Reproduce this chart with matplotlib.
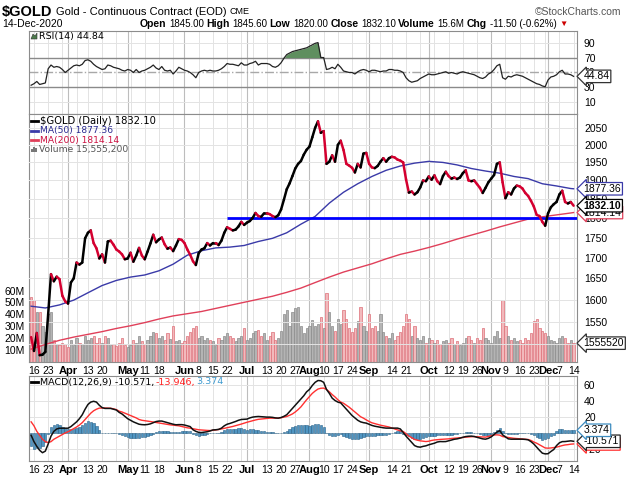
import numpy as np
import pandas as pd
import matplotlib
matplotlib.use('Agg')
import matplotlib.pyplot as plt
from matplotlib.collections import LineCollection
from matplotlib.lines import Line2D
from matplotlib.patches import Polygon, Rectangle
from matplotlib.ticker import NullLocator

plt.rcParams['font.family'] = ['Liberation Sans', 'DejaVu Sans']

# ---------------- data ----------------
holidays = ['2020-04-10', '2020-05-25', '2020-07-03', '2020-09-07', '2020-11-26']
dates = pd.bdate_range('2020-03-13', '2020-12-14')
dates = dates[~dates.isin(pd.to_datetime(holidays))]

close = [
    1516, 1486, 1525, 1477, 1478, 1484, 1567, 1660, 1643, 1654,
    1648, 1609, 1596, 1591, 1640, 1650, 1688, 1683, 1688, 1748,
    1762, 1768, 1736, 1723, 1698, 1708, 1688, 1740, 1742, 1732,
    1720, 1715, 1708, 1696, 1698, 1712, 1690, 1705, 1724, 1705,
    1696, 1715, 1735, 1757, 1738, 1745, 1750, 1733, 1722, 1725,
    1716, 1730, 1746, 1744, 1736, 1720, 1707, 1691, 1682, 1711,
    1720, 1723, 1736, 1730, 1736, 1736, 1731, 1742, 1762, 1776,
    1772, 1768, 1770, 1778, 1790, 1782, 1788, 1792, 1800, 1813,
    1805, 1803, 1812, 1812, 1810, 1805, 1802, 1807, 1822, 1848,
    1876, 1892, 1912, 1933, 1946, 1954, 1972, 1986, 1995, 2022,
    2050, 2069, 2035, 2040, 1946, 1952, 1970, 1952, 2000, 2012,
    1985, 1946, 1941, 1935, 1922, 1946, 1936, 1975, 1977, 1946,
    1936, 1934, 1940, 1952, 1962, 1952, 1962, 1966, 1964, 1958,
    1955, 1950, 1903, 1867, 1870, 1862, 1868, 1881, 1900, 1898,
    1911, 1902, 1914, 1898, 1890, 1912, 1924, 1912, 1905, 1908,
    1904, 1908, 1920, 1928, 1900, 1898, 1900, 1890, 1880, 1866,
    1880, 1895, 1905, 1915, 1946, 1950, 1895, 1852, 1868, 1862,
    1878, 1886, 1884, 1878, 1866, 1858, 1845, 1830, 1808, 1805,
    1790, 1780, 1812, 1828, 1836, 1842, 1862, 1872, 1842, 1838,
    1842, 1832.10,
]

# volume in millions
volume_m = [
    55, 52, 42, 42, 30, 25, 40, 42, 18, 15,
    14, 16, 15, 12, 18, 14, 20, 16, 15, 22,
    18, 20, 22, 16, 20, 16, 22, 20, 14, 15,
    13, 16, 20, 14, 12, 14, 18, 16, 22, 17,
    15, 18, 22, 25, 24, 20, 22, 18, 24, 19,
    30, 17, 18, 16, 17, 22, 25, 28, 30, 20,
    22, 18, 20, 18, 17, 14, 20, 18, 22, 24,
    22, 20, 17, 20, 22, 28, 18, 20, 24, 26,
    27, 22, 24, 18, 22, 25, 18, 20, 26, 40,
    44, 30, 42, 45, 46, 30, 24, 28, 30, 35,
    30, 32, 38, 28, 58, 42, 30, 26, 36, 32,
    44, 36, 28, 25, 28, 34, 46, 30, 26, 40,
    28, 30, 26, 40, 25, 22, 20, 24, 18, 22,
    25, 30, 40, 36, 22, 30, 20, 18, 22, 16,
    20, 18, 16, 18, 15, 17, 18, 16, 20, 15,
    17, 14, 16, 20, 22, 18, 16, 20, 18, 28,
    20, 18, 16, 22, 26, 20, 52, 30, 22, 18,
    20, 17, 18, 16, 20, 18, 24, 34, 36, 28,
    26, 24, 22, 18, 17, 16, 20, 22, 20, 16,
    18, 15.5552,
]

# moving averages, read every 5th session plus the last one
ma50 = [1585, 1581, 1588, 1599, 1616, 1633, 1645, 1653, 1658, 1668,
        1684, 1706, 1717, 1724, 1726, 1730, 1740, 1748, 1762, 1784,
        1804, 1839, 1868, 1891, 1911, 1928, 1940, 1948, 1953, 1950,
        1943, 1933, 1926, 1920, 1911, 1905, 1891, 1885, 1878, 1877.36]
ma200 = [1490, 1500, 1509, 1516, 1522, 1528, 1535, 1541, 1548, 1556,
         1563, 1568, 1573, 1580, 1587, 1594, 1601, 1608, 1617, 1627,
         1640, 1653, 1665, 1675, 1685, 1697, 1708, 1716, 1725, 1735,
         1746, 1756, 1766, 1777, 1787, 1797, 1803, 1808, 1813, 1814.14]

rsi = [
    33, 35, 38, 34, 35, 36, 55, 60, 57, 58,
    57, 54, 50, 53, 56, 59, 60, 59, 61, 66,
    67, 65, 61, 58, 56, 54, 55, 60, 59, 57,
    56, 55, 53, 52, 54, 53, 50, 54, 50, 52,
    53, 55, 57, 60, 56, 54, 58, 53, 52, 53,
    48, 52, 57, 55, 53, 52, 50, 47, 43, 50,
    52, 53, 52, 53, 52, 52, 53, 55, 58, 62,
    61, 61, 60, 59, 63, 60, 60, 62, 63, 65,
    60, 62, 62, 62, 61, 58, 57, 59, 63, 69,
    74, 76, 78, 79, 80, 81, 82, 83, 85, 87,
    89, 90, 70, 70, 54, 55, 57, 55, 61, 57,
    52, 51, 50, 50, 48, 51, 53, 54, 53, 51,
    53, 53, 52, 51, 52, 52, 54, 54, 53, 53,
    52, 50, 43, 39, 37, 38, 39, 42, 44, 46,
    48, 47, 47, 48, 49, 50, 51, 49, 50, 49,
    48, 50, 51, 50, 49, 48, 47, 45, 43, 42,
    44, 48, 50, 54, 59, 61, 43, 41, 45, 44,
    46, 47, 46, 45, 43, 41, 39, 37, 35, 34,
    32, 31, 40, 44, 45, 47, 51, 53, 48, 48,
    47, 44.84,
]

macd = [
    -3, -11, -17, -22, -25, -23, -14, -4, 2, 5,
    6, 6, 6, 6, 8, 11, 14, 18, 23, 30,
    36, 39, 40, 39, 35, 32, 31, 31, 31, 30,
    29, 26, 24, 21, 18, 16, 14, 12.5, 11, 10.5,
    10.3, 10.7, 11.5, 13, 14.4, 15, 15, 14, 13, 12,
    11, 10.3, 10.5, 10.5, 10, 9, 8, 4, 2, 0.7,
    0.5, 1, 1.5, 2.5, 3.8, 4, 4.5, 6, 9, 11,
    12, 13.2, 14.5, 16, 17, 17.2, 17.5, 19, 20, 20.5,
    20.8, 20.5, 20.2, 20, 20, 19.7, 19, 18.7, 19.5, 21,
    23, 27, 31, 35, 39, 43, 47, 52, 55, 60,
    64, 66.3, 66, 64, 55, 50, 44, 41, 39, 38,
    34, 30, 26, 22, 19, 16, 14, 13, 12.4, 11,
    9.5, 8.5, 7.8, 7, 6.5, 6.1, 6.1, 6.1, 6.1, 6.1,
    5, 0.5, -4, -8, -12, -16, -17.5, -18, -17, -16.3,
    -15, -14, -13, -11.5, -10.9, -11, -10.9, -10, -9, -8,
    -7.5, -6.6, -5.5, -4.6, -4.2, -4, -4.5, -5.5, -6.6, -7.5,
    -7.9, -6.8, -5, -2, 1, 3, -2.4, -5, -7.5, -7.9,
    -7.9, -7.9, -7.9, -7.9, -8.2, -8.7, -11, -14, -18, -22,
    -25.6, -26.5, -26.3, -23.5, -21, -16, -12.5, -11, -10.9, -10.5,
    -10, -10.571,
]

signal = [
    14, 9, 2, -3, -8, -11, -12.2, -11, -8, -6,
    -4, -2, 0, 1.5, 3.5, 5.5, 7.5, 10, 13, 17,
    21, 25, 28, 30, 31.4, 31.5, 31.5, 31.4, 31.2, 30.5,
    29.5, 27.5, 26.5, 25, 23.5, 22, 20.5, 19, 17, 16,
    15.5, 15, 14.4, 13.8, 13.2, 12.6, 12, 11.3, 10.7, 10.2,
    9.8, 9.4, 9, 8.2, 7.3, 6.5, 6, 5.3, 4.6, 4,
    3.7, 3.4, 3.2, 3, 3.3, 3.8, 4.3, 5, 5.8, 6.6,
    7.3, 8.2, 9.2, 10.1, 11.2, 12.4, 13.5, 14.5, 15.5, 16.4,
    17.2, 17.6, 18, 18.4, 18.7, 18.7, 18.7, 18.7, 19.2, 20,
    20.8, 22.3, 24, 26.5, 29.5, 33, 37.5, 42, 46, 50,
    53, 55.5, 56.5, 56.7, 55, 52, 48.5, 45.5, 42, 39,
    37.5, 35, 32.5, 29.5, 26.5, 23.5, 20.5, 18.7, 16.5, 14.5,
    12.8, 11.8, 10.7, 9.8, 9, 8.2, 7.5, 6.3, 5, 3.8,
    2.6, 1.8, -1, -4, -6, -8.2, -9.2, -10, -10.5, -10.9,
    -10.5, -9.5, -8.9, -8.5, -8.2, -8, -7.9, -7.5, -7, -6.7,
    -6.5, -6.2, -5.8, -5.3, -5, -4.8, -4.6, -4.8, -5, -5.2,
    -5.3, -4.5, -3.5, -2.6, -2.4, -2.8, -4.6, -5.2, -5.8, -6.3,
    -6.8, -7.1, -7.4, -7.7, -7.9, -8.3, -9.5, -11.5, -13, -15,
    -17, -19, -19.3, -19, -18.5, -18, -17, -16, -15.2, -14.8,
    -14.2, -13.946,
]

# last values as printed by the chart
last_close, last_ma50, last_ma200 = '1832.10', '1877.36', '1814.14'
last_volume, last_rsi = '1555520', '44.84'
last_macd, last_signal, last_hist = '-10.571', '-13.946', '3.374'

support_level = 1800
support_start = '2020-06-22'

tick_dates = ['2020-03-16', '2020-03-23', '2020-04-01', '2020-04-13', '2020-04-20',
              '2020-05-01', '2020-05-11', '2020-05-18', '2020-06-01', '2020-06-08',
              '2020-06-15', '2020-06-22', '2020-07-01', '2020-07-13', '2020-07-20',
              '2020-07-27', '2020-08-03', '2020-08-10', '2020-08-17', '2020-08-24',
              '2020-09-01', '2020-09-14', '2020-09-21', '2020-10-01', '2020-10-12',
              '2020-10-19', '2020-10-26', '2020-11-02', '2020-11-09', '2020-11-16',
              '2020-11-23', '2020-12-01', '2020-12-07', '2020-12-14']
tick_labels = ['16', '23', 'Apr', '13', '20', 'May', '11', '18', 'Jun', '8',
               '15', '22', 'Jul', '13', '20', '27', 'Aug', '10', '17', '24',
               'Sep', '14', '21', 'Oct', '12', '19', '26', 'Nov', '9', '16',
               '23', 'Dec', '7', '14']

price_levels = [1500, 1550, 1600, 1650, 1700, 1750, 1800, 1850, 1900, 1950, 2000, 2050]
vol_levels = [10, 20, 30, 40, 50, 60]
rsi_levels = [10, 30, 50, 70, 90]
macd_levels = [-20, 0, 20, 40, 60]

n = len(dates)
assert len(close) == n and len(volume_m) == n and len(rsi) == n
assert len(macd) == n and len(signal) == n
close = np.array(close, dtype=float)
volume = np.array(volume_m) * 1e6
rsi = np.array(rsi, dtype=float)
macd = np.array(macd, dtype=float)
signal = np.array(signal, dtype=float)
hist = macd - signal
x = np.arange(n)
ma_pos = np.r_[np.arange(0, n - 1, 5), n - 1]

date_pos = {d.strftime('%Y-%m-%d'): i for i, d in enumerate(dates)}
tick_pos = [date_pos[d] for d in tick_dates]
is_month = [not lbl.isdigit() for lbl in tick_labels]

week = dates.isocalendar().week.values
week_starts = [i for i in range(1, n) if week[i] != week[i - 1]]
month_starts = [i for i in range(1, n) if dates[i].month != dates[i - 1].month]

# ---------------- figure ----------------
W, H = 626, 479
fig = plt.figure(figsize=(W / 100, H / 100), dpi=100)
fig.patch.set_facecolor('white')


def rect(top, bottom, left=29, right=577):
    return [left / W, 1 - bottom / H, (right - left) / W, (bottom - top) / H]


def fx(px):
    return px / W


def fy(py):
    return 1 - py / H


ax_rsi = fig.add_axes(rect(31, 114))
ax_vol = fig.add_axes(rect(114, 361.5), sharex=ax_rsi)
ax_price = fig.add_axes(rect(114, 361.5), sharex=ax_rsi)
ax_macd = fig.add_axes(rect(376, 461), sharex=ax_rsi)
ax_vol.set_zorder(1)
ax_price.set_zorder(2)
ax_price.patch.set_visible(False)

grid_light = '#e3e3e3'
grid_month = '#bdbdbd'
for ax in (ax_rsi, ax_vol, ax_macd):
    for i in week_starts:
        ax.axvline(i, color=grid_light, lw=0.7, zorder=0)
    for i in month_starts:
        ax.axvline(i, color=grid_month, lw=0.8, zorder=0)

for ax in (ax_rsi, ax_vol, ax_price, ax_macd):
    for s in ax.spines.values():
        s.set_color('#8c8c8c')
        s.set_linewidth(0.8)
    ax.tick_params(axis='both', length=0, labelsize=7.5)
    ax.tick_params(axis='y', labelleft=False, labelright=True, pad=5)
ax_price.spines[:].set_visible(False)

ax_rsi.set_xlim(-0.75, 192.2)
ax_rsi.set_xticks(tick_pos)
ax_rsi.set_xticklabels(tick_labels)
ax_rsi.tick_params(labelbottom=False)
ax_price.tick_params(labelbottom=False)
for ax in (ax_vol, ax_macd):
    ax.tick_params(axis='x', labelbottom=True, pad=3)
    for lbl, m in zip(ax.get_xticklabels(), is_month):
        lbl.set_fontweight('bold' if m else 'normal')
        lbl.set_fontsize(8 if m else 7.5)

# ---------------- RSI panel ----------------
ax_rsi.set_ylim(-5.5, 105.5)
ax_rsi.set_yticks(rsi_levels)
for lv in (10, 90):
    ax_rsi.axhline(lv, color=grid_light, lw=0.7, zorder=0)
for lv in (30, 70):
    ax_rsi.axhline(lv, color='#8a8a8a', lw=1.0, zorder=1)
ax_rsi.axhline(50, color='#a8a8a8', lw=1.0, ls='-.', zorder=1)
ax_rsi.fill_between(x, rsi, 70, where=rsi > 70, interpolate=True,
                    color='#5f8f5f', lw=0, zorder=2)
ax_rsi.plot(x, rsi, color='#222222', lw=0.9, zorder=3)

# ---------------- price + volume panel ----------------
vol_top = 209.7e6
ax_vol.set_ylim(0, vol_top)
ax_vol.set_yticks([v * 1e6 for v in vol_levels])
ax_vol.set_yticklabels([f'{v}M' for v in vol_levels])
ax_vol.tick_params(axis='y', labelleft=True, labelright=False, pad=3)
up = np.r_[False, np.diff(close) >= 0]
ax_vol.bar(x, volume, width=0.78,
           color=np.where(up, '#b4b4b4', '#f2b9bc'),
           edgecolor=np.where(up, '#8a8a8a', '#dd6f78'), linewidth=0.5, zorder=2)

ax_price.set_yscale('log')
ax_price.set_ylim(1463.6, 2091)
ax_price.yaxis.set_minor_locator(NullLocator())
ax_price.set_yticks(price_levels)
ax_price.set_yticklabels([str(v) for v in price_levels])
for lv in price_levels:
    ax_price.axhline(lv, color=grid_light, lw=0.7, zorder=0)

ax_price.plot(ma_pos, ma200, color='#e0405a', lw=1.0, zorder=3)
ax_price.plot(ma_pos, ma50, color='#3a3aa8', lw=1.0, zorder=3)
ax_price.hlines(support_level, date_pos[support_start], 192.2, color='#0000ff', lw=2.0, zorder=4)

pts = np.column_stack([x, close])
segs = np.stack([pts[:-1], pts[1:]], axis=1)
seg_colors = np.where(np.diff(close) >= 0, '#000000', '#d40030')
ax_price.add_collection(LineCollection(segs, colors=seg_colors, linewidths=1.8,
                                       capstyle='round', joinstyle='round', zorder=5))

# ---------------- MACD panel ----------------
ax_macd.set_ylim(-35.5, 72)
ax_macd.set_yticks(macd_levels)
for lv in macd_levels:
    ax_macd.axhline(lv, color=grid_light, lw=0.7, zorder=0)
ax_macd.bar(x, hist, width=0.8, color='#4f95c2', edgecolor='#2b6288', linewidth=0.4, zorder=2)
ax_macd.plot(x, signal, color='#ff3030', lw=1.0, zorder=3)
ax_macd.plot(x, macd, color='#111111', lw=1.1, zorder=4)


# ---------------- value tags on the right ----------------
def tag(ax, y, text, edge, weight='normal', transform=None):
    tr = transform if transform is not None else ax.get_yaxis_transform()
    ax.text(1.012, y, text, transform=tr, fontsize=7.5, fontweight=weight,
            va='center', ha='left', color='black', clip_on=False, zorder=20,
            bbox=dict(boxstyle='larrow,pad=0.12', fc='white', ec=edge, lw=0.9))


tag(ax_rsi, rsi[-1], last_rsi, '#333333')
tag(ax_price, ma200[-1], last_ma200, '#e0405a')
tag(ax_price, ma50[-1], last_ma50, '#3a3aa8')
tag(ax_price, close[-1], last_close, '#000000', weight='bold')
tag(ax_price, volume[-1] / vol_top, last_volume, '#333333', transform=ax_price.transAxes)
tag(ax_macd, signal[-1], last_signal, '#ff3030')
tag(ax_macd, macd[-1], last_macd, '#222222')
tag(ax_macd, hist[-1], last_hist, '#3d8cc0')

# ---------------- header ----------------
renderer = fig.canvas.get_renderer()


def runs(x_px, y_px, parts, family=None, gap=3):
    xf = fx(x_px)
    for txt, color, size, weight in parts:
        kw = {} if family is None else {'family': family}
        t = fig.text(xf, fy(y_px), txt, color=color, fontsize=size, fontweight=weight,
                     va='center', ha='left', **kw)
        bb = t.get_window_extent(renderer)
        xf = bb.x1 / fig.bbox.width + gap / W


narrow = ['Liberation Sans Narrow', 'Liberation Sans', 'DejaVu Sans']
runs(2, 12, [('$GOLD', 'black', 10.5, 'bold'),
             ('Gold - Continuous Contract (EOD)', 'black', 8, 'normal'),
             ('CME', 'black', 6.5, 'normal')], family=narrow)
fig.text(fx(621), fy(12), '©StockCharts.com', ha='right', va='center',
         fontsize=7.5, color='#555555')
fig.text(fx(2), fy(24), '14-Dec-2020', ha='left', va='center', fontsize=7.5, family=narrow)
runs(140, 24, [('Open', 'black', 7.5, 'bold'), ('1845.00', 'black', 7, 'normal'),
               ('High', 'black', 7.5, 'bold'), ('1845.60', 'black', 7, 'normal'),
               ('Low', 'black', 7.5, 'bold'), ('1820.00', 'black', 7, 'normal'),
               ('Close', 'black', 7.5, 'bold'), ('1832.10', 'black', 7, 'normal'),
               ('Volume', 'black', 7.5, 'bold'), ('15.6M', 'black', 7, 'normal'),
               ('Chg', 'black', 7.5, 'bold'), ('-11.50 (-0.62%)', 'black', 7, 'normal'),
               ('▼', '#cc0000', 6, 'normal')], family=narrow, gap=2.5)

# ---------------- panel legends ----------------
leg = ['DejaVu Sans']
# RSI
fig.patches.append(Polygon([[fx(31), fy(39)], [fx(33), fy(34)], [fx(35), fy(36)],
                            [fx(37), fy(33)], [fx(37), fy(39)]],
                           closed=True, transform=fig.transFigure, fc='#4d7d4d', ec='#333333', lw=0.4))
fig.text(fx(39), fy(36), f'RSI(14) {last_rsi}', fontsize=6.8, va='center', family=leg)

# price
legend_rows = [(121, f'$GOLD (Daily) {last_close}', '#000000', '#000000', 7.2),
               (130.5, f'MA(50) {last_ma50}', '#3a3aa8', '#2a2a90', 6.6),
               (140, f'MA(200) {last_ma200}', '#e0405a', '#cc1040', 6.6)]
for py, label, lc, tc, fs in legend_rows:
    fig.add_artist(Line2D([fx(31), fx(38)], [fy(py), fy(py)], color=lc, lw=2,
                          transform=fig.transFigure))
    fig.text(fx(40), fy(py), label, color=tc, fontsize=fs, va='center', family=leg)
for k, hgt in enumerate([3, 5, 4]):
    fig.patches.append(Rectangle((fx(31 + 2.2 * k), fy(152)), 1.6 / W, hgt / H,
                                 transform=fig.transFigure, fc='#777777', lw=0))
fig.text(fx(39), fy(149.5), 'Volume 15,555,200', color='#555555', fontsize=6.6,
         va='center', family=leg)

# MACD
fig.add_artist(Line2D([fx(31), fx(38)], [fy(382), fy(382)], color='black', lw=2,
                      transform=fig.transFigure))
runs(40, 382, [(f'MACD(12,26,9) {last_macd},', 'black', 6.8, 'normal')], family=leg)
t1 = fig.texts[-1].get_window_extent(renderer)
runs(t1.x1 + 1, 382, [(f'{last_signal},', '#ff2020', 6.8, 'normal')], family=leg)
t2 = fig.texts[-1].get_window_extent(renderer)
runs(t2.x1 + 1, 382, [(last_hist, '#3d9ad0', 6.8, 'normal')], family=leg)

fig.savefig('out.png', dpi=100)
